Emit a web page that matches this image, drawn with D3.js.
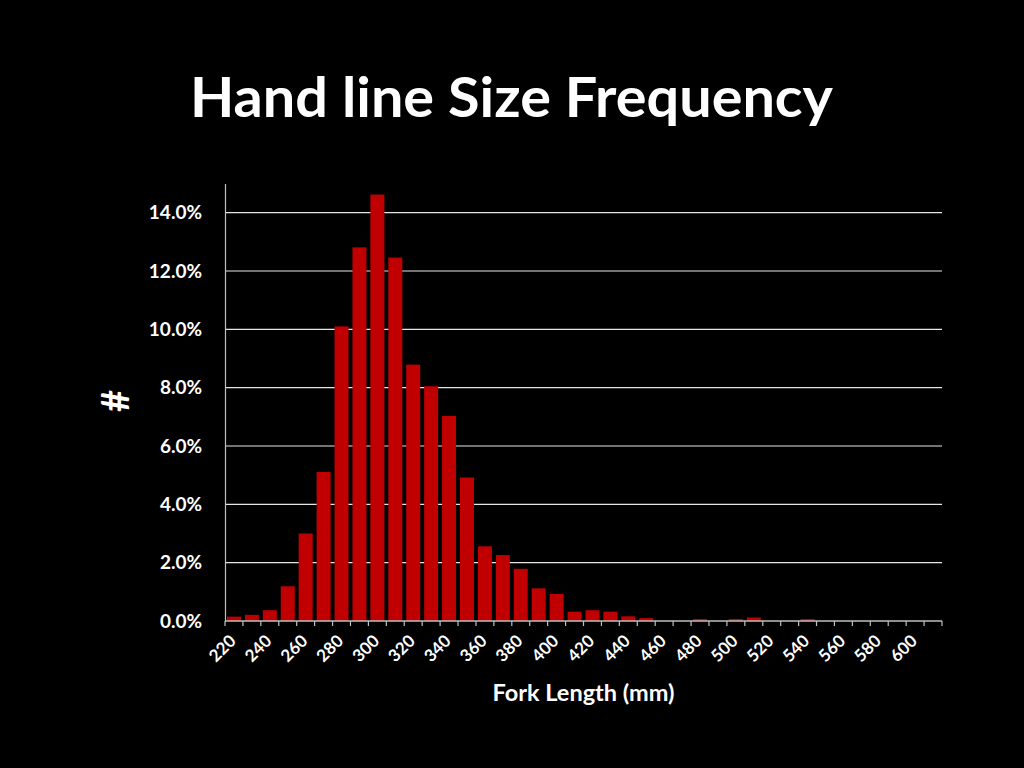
<!DOCTYPE html>
<html><head><meta charset="utf-8">
<script src="https://cdn.jsdelivr.net/npm/d3@7"></script>
<style>html,body{margin:0;padding:0;background:#000;}svg{display:block;}</style>
</head><body>
<script>
const categories = [220,230,240,250,260,270,280,290,300,310,320,330,340,350,360,370,380,390,400,410,420,430,440,450,460,470,480,490,500,510,520,530,540,550,560,570,580,590,600,610];
const values = [0.15,0.21,0.37,1.19,3.0,5.11,10.1,12.81,14.62,12.46,8.79,8.05,7.03,4.92,2.56,2.26,1.79,1.12,0.93,0.32,0.37,0.32,0.16,0.10,0,0,0.07,0,0.07,0.12,0,0,0.07,0,0,0,0,0,0,0];
const yTicks = [0,2,4,6,8,10,12,14];
const xTickLabels = [220,240,260,280,300,320,340,360,380,400,420,440,460,480,500,520,540,560,580,600];
const title = "Hand line Size Frequency";
const xTitle = "Fork Length (mm)";
const yTitle = "#";

const W = 1024, H = 768;
const svg = d3.select("body").append("svg").attr("width", W).attr("height", H);
svg.append("rect").attr("width", W).attr("height", H).attr("fill", "#000");

const pL = 225, pR = 942, pT = 183.5, pB = 621;
const x = d3.scaleBand().domain(categories).range([pL, pR]).paddingInner(0.22).paddingOuter(0.11);
const y = d3.scaleLinear().domain([0, 15]).range([pB, pT]);
const font = "Lato, 'Open Sans', sans-serif";

// gridlines
svg.append("g").selectAll("line").data(yTicks.filter(d => d > 0)).join("line")
  .attr("x1", pL).attr("x2", pR)
  .attr("y1", d => y(d)).attr("y2", d => y(d))
  .attr("stroke", "#e6e6e6").attr("stroke-width", 1.2);

// bars
svg.append("g").selectAll("rect").data(categories).join("rect")
  .attr("x", d => x(d)).attr("width", x.bandwidth())
  .attr("y", (d, i) => y(values[i])).attr("height", (d, i) => pB - y(values[i]))
  .attr("fill", "#c00000");

// y axis
const yAxis = svg.append("g").attr("transform", `translate(${pL},0)`)
  .call(d3.axisLeft(y).tickValues(yTicks).tickSize(0).tickPadding(23).tickFormat(d => d.toFixed(1) + "%"));
yAxis.select(".domain").attr("stroke", "#bfbfbf").attr("stroke-width", 1.2);
yAxis.selectAll("text").attr("fill", "#fff").attr("font-family", font).attr("font-weight", "bold").attr("font-size", 19);

// x axis: ticks at band boundaries
const bounds = d3.range(categories.length + 1).map(i => pL + i * (pR - pL) / categories.length);
const xg = svg.append("g");
xg.append("line").attr("x1", pL).attr("x2", pR).attr("y1", pB).attr("y2", pB)
  .attr("stroke", "#bfbfbf").attr("stroke-width", 1.5);
xg.selectAll("line.tk").data(bounds).join("line").attr("class", "tk")
  .attr("x1", d => d).attr("x2", d => d).attr("y1", pB).attr("y2", pB + 5)
  .attr("stroke", "#bfbfbf").attr("stroke-width", 1.2);
xg.selectAll("text").data(xTickLabels).join("text")
  .attr("transform", d => `translate(${x(d) + x.bandwidth() / 2 + 3},${pB + 21}) rotate(-45)`)
  .attr("text-anchor", "end")
  .attr("fill", "#fff").attr("font-family", font).attr("font-weight", "bold").attr("font-size", 17)
  .text(d => d);

// titles
svg.append("text").attr("x", 511.5).attr("y", 117).attr("text-anchor", "middle")
  .attr("fill", "#fff").attr("font-family", font).attr("font-weight", "bold").attr("font-size", 55)
  .attr("textLength", 643).attr("lengthAdjust", "spacingAndGlyphs").text(title);
svg.append("text").attr("x", (pL + pR) / 2).attr("y", 701).attr("text-anchor", "middle")
  .attr("fill", "#fff").attr("font-family", font).attr("font-weight", "bold").attr("font-size", 23.5)
  .text(xTitle);
svg.append("text").attr("transform", "translate(129,401) rotate(-90)").attr("text-anchor", "middle")
  .attr("fill", "#fff").attr("font-family", font).attr("font-weight", "bold").attr("font-size", 38)
  .text(yTitle);
</script>
</body></html>
